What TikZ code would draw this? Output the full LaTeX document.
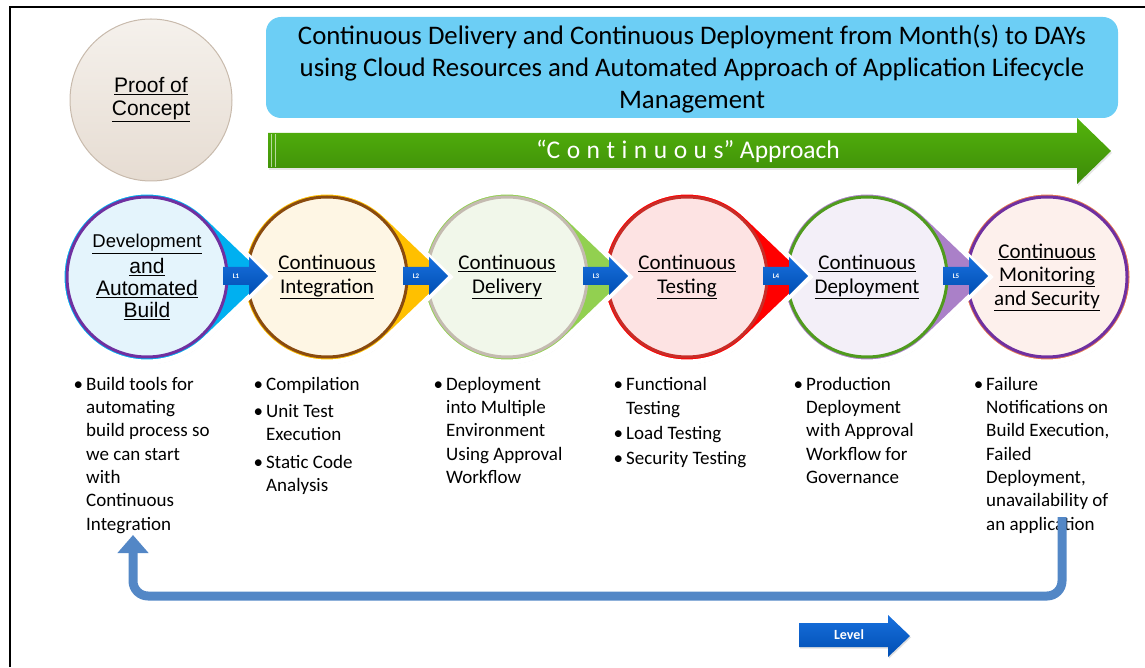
\documentclass[tikz,border=0pt]{standalone}
\usepackage{fontspec}
\setmainfont{Carlito}
\newfontfamily\arialfont{Liberation Sans}
\usetikzlibrary{shadows,arrows.meta}

\definecolor{skybox}{RGB}{108,206,245}
\definecolor{greentop}{RGB}{84,180,12}
\definecolor{greenbot}{RGB}{60,138,8}
\definecolor{lvltop}{RGB}{24,112,222}
\definecolor{lvlbot}{RGB}{0,78,178}
\definecolor{loopblue}{RGB}{83,135,198}
\definecolor{poctop}{RGB}{245,241,236}
\definecolor{pocbot}{RGB}{230,220,210}
\definecolor{pocedge}{RGB}{200,186,172}
\definecolor{tailA}{RGB}{0,176,240}
\definecolor{tailB}{RGB}{255,192,0}
\definecolor{tailC}{RGB}{146,208,80}
\definecolor{tailD}{RGB}{255,0,0}
\definecolor{tailE}{RGB}{170,128,200}
\definecolor{fillA}{RGB}{228,244,252}
\definecolor{fillB}{RGB}{254,246,228}
\definecolor{fillC}{RGB}{241,247,234}
\definecolor{fillD}{RGB}{253,227,227}
\definecolor{fillE}{RGB}{243,239,248}
\definecolor{fillF}{RGB}{253,240,236}
\definecolor{edgeA}{RGB}{112,48,160}
\definecolor{edgeB}{RGB}{138,75,15}
\definecolor{edgeC}{RGB}{196,186,176}
\definecolor{edgeD}{RGB}{200,45,40}
\definecolor{edgeE}{RGB}{80,155,30}
\definecolor{ringF}{RGB}{232,122,80}

\newcommand\stagefont{\fontsize{21}{23.5}\selectfont}
\newcommand\buildfont{\arialfont\fontsize{21}{22}\selectfont}

\tikzset{
  halo/.style={draw=white, line width=5pt,
    drop shadow={shadow xshift=1pt, shadow yshift=-2pt, opacity=0.25}},
  stage/.style={circle, minimum size=160pt, inner sep=0pt, line width=3pt,
    align=center},
  notes/.style={anchor=north west, align=left, inner sep=0pt,
    font=\fontsize{19}{23.3}\selectfont},
  lvltag/.style={text=white, font=\fontsize{7}{7}\selectfont\bfseries, inner sep=0pt},
}

\begin{document}
\begin{tikzpicture}[x=1pt, y=1pt]
  \useasboundingbox (0,0) rectangle (1145,667);
  \draw[line width=2.5pt] (10,0) -- (10,660) -- (1145,660);

  % proof of concept and headline
  \node[circle, minimum size=162pt, top color=poctop, bottom color=pocbot,
        draw=pocedge, line width=1pt, align=center,
        font=\arialfont\fontsize{21}{23}\selectfont] (poc) at (151,567)
        {\underline{Proof of}\\\underline{Concept}};
  \fill[skybox, rounded corners=15pt] (266,549) rectangle (1118,650);
  \node[align=center, font=\fontsize{26.8}{32}\selectfont] (headline) at (692,598)
        {Continuous Delivery and Continuous Deployment from Month(s) to DAYs\\
         using Cloud Resources and Automated Approach of Application Lifecycle\\
         Management};

  % continuous approach arrow
  \shade[top color=greentop, bottom color=greenbot,
         drop shadow={shadow xshift=1pt, shadow yshift=-2pt, opacity=0.2}]
    (268,499) -- (1077,499) -- (1077,483) -- (1111,516) -- (1077,549)
    -- (1077,534) -- (268,534) -- cycle;
  \draw[white, opacity=0.6, line width=0.8pt] (271,500) -- (271,533) (275,500) -- (275,533);
  \node[text=white, font=\fontsize{25.5}{25.5}\selectfont] (approach) at (688,516)
    {``C\hspace{6.5pt}o\hspace{6.5pt}n\hspace{6.5pt}t\hspace{6.5pt}i\hspace{6.5pt}n\hspace{6.5pt}u\hspace{6.5pt}o\hspace{6.5pt}u\hspace{6.5pt}s'' Approach};

  % stages, right to left
  \filldraw[halo, fill=ringF] (1047,390) circle (85);
  \node[stage, fill=fillF, draw=edgeA, font=\stagefont] (monitor) at (1047,390)
    {\underline{Continuous}\\\underline{Monitoring}\\\underline{and Security}};
  \foreach \cx/\tail/\inner/\edge/\f/\name/\txt in {
      867/tailE/fillE/edgeE/\stagefont/deploy/{\underline{Continuous}\\\underline{Deployment}},
      687/tailD/fillD/edgeD/\stagefont/testing/{\underline{Continuous}\\\underline{Testing}},
      507/tailC/fillC/edgeC/\stagefont/deliv/{\underline{Continuous}\\\underline{Delivery}},
      327/tailB/fillB/edgeB/\stagefont/integ/{\underline{Continuous}\\\underline{Integration}},
      147/tailA/fillA/edgeA/\buildfont/dev/{{\fontsize{18.5}{20}\selectfont\underline{Development}}\\[4pt]\underline{and}\\\underline{Automated}\\\underline{Build}}}
  {
    \filldraw[halo, fill=\tail] (\cx+123,390) -- ([shift={(46.3:85)}]\cx,390)
      arc[start angle=46.3, end angle=313.7, radius=85] -- cycle;
    \node[stage, fill=\inner, draw=\edge, font=\f] (\name) at (\cx,390) {\txt};
  }

  % level tags
  \foreach \i [evaluate=\i as \cx using 147+180*(\i-1)] in {1,...,5} {
    \shade[top color=lvltop, bottom color=lvlbot]
      (\cx+76,382) -- (\cx+102,382) -- (\cx+102,372) -- (\cx+121,391)
      -- (\cx+102,410) -- (\cx+102,400) -- (\cx+76,400) -- cycle;
    \node[lvltag] (lbl\i) at (\cx+89,391) {L\i};
  }

  % notes under each stage
  \node[notes] (devnotes) at (86,290)
    {\llap{\textbullet\hspace{3pt}}Build tools for\\automating\\build process so\\we can start\\with\\Continuous\\Integration};
  \node[notes] (integnotes) at (266,290)
    {\llap{\textbullet\hspace{3pt}}Compilation\\[4pt]\llap{\textbullet\hspace{3pt}}Unit Test\\Execution\\[4pt]\llap{\textbullet\hspace{3pt}}Static Code\\Analysis};
  \node[notes] (delivnotes) at (446,290)
    {\llap{\textbullet\hspace{3pt}}Deployment\\into Multiple\\Environment\\Using Approval\\Workflow};
  \node[notes, font=\fontsize{19}{24}\selectfont] (testnotes) at (626,290)
    {\llap{\textbullet\hspace{3pt}}Functional\\Testing\\[1pt]\llap{\textbullet\hspace{3pt}}Load Testing\\[1pt]\llap{\textbullet\hspace{3pt}}Security Testing};
  \node[notes] (deploynotes) at (806,290)
    {\llap{\textbullet\hspace{3pt}}Production\\Deployment\\with Approval\\Workflow for\\Governance};
  \node[notes] (monitornotes) at (986,290)
    {\llap{\textbullet\hspace{3pt}}Failure\\Notifications on\\Build Execution,\\Failed\\Deployment,\\unavailability of\\an application};

  % feedback loop
  \coordinate (fbstart) at (1062,150);
  \coordinate (fbbottom) at (133,71);
  \coordinate (fbend) at (133,132);
  \draw[loopblue, line width=9pt, rounded corners=15pt,
        -{Triangle[width=30pt, length=18pt]}]
    (fbstart) |- (fbbottom) -- (fbend);

  % level key
  \shade[top color=lvltop, bottom color=lvlbot,
         drop shadow={shadow xshift=1pt, shadow yshift=-1.5pt, opacity=0.25}]
    (799,20) -- (888,20) -- (888,10) -- (910,31) -- (888,52) -- (888,44)
    -- (799,44) -- cycle;
  \node[text=white, font=\fontsize{14}{14}\selectfont\bfseries] (levelkey) at (849,32) {Level};
\end{tikzpicture}
\end{document}
